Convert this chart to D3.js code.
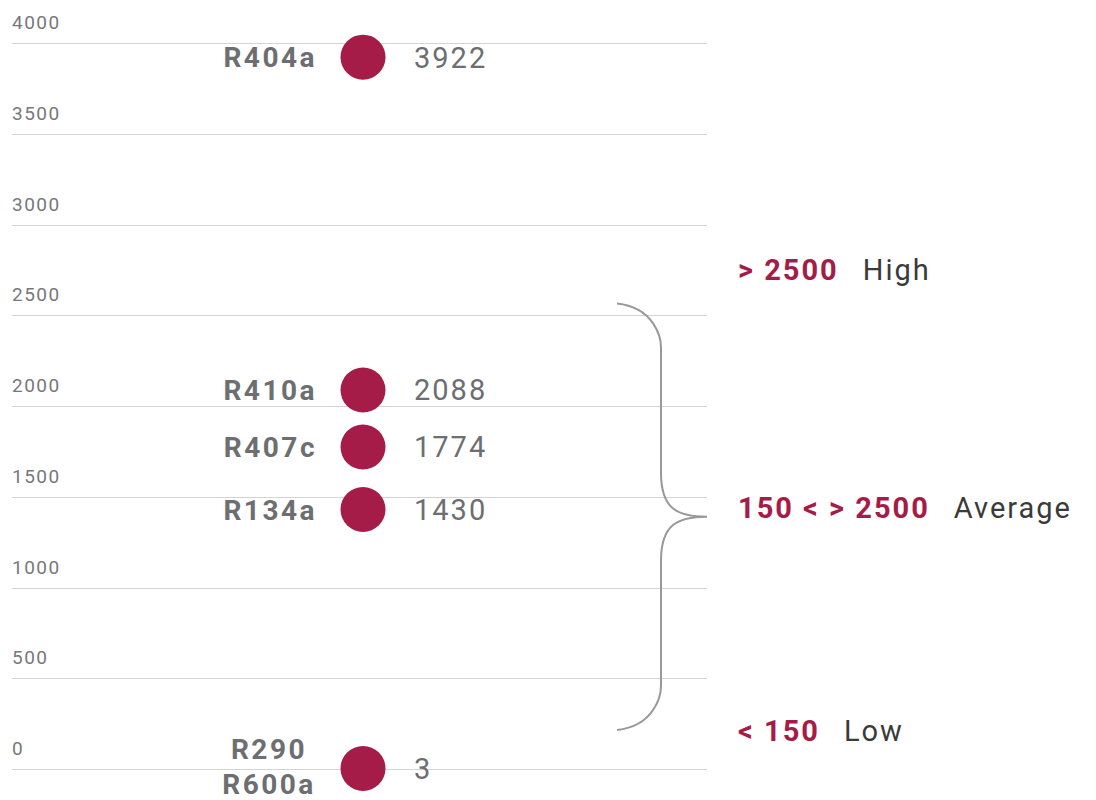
<!DOCTYPE html>
<meta charset="utf-8">
<style>
body { margin: 0; background: #fff; }
text { font-family: Roboto, "Open Sans", sans-serif; }
.tick-label { font-size: 19px; fill: #77787b; letter-spacing: 1.5px; }
.grid line { stroke: #d4d4d4; stroke-width: 1.2; }
.name { font-size: 28px; font-weight: bold; fill: #6d6e71; letter-spacing: 2.5px; }
.value { font-size: 29px; fill: #6d6e71; letter-spacing: 2px; }
.band-range { font-size: 29px; font-weight: bold; fill: #a51c48; letter-spacing: 2px; }
.band-name { font-size: 29px; fill: #3a3a3a; letter-spacing: 2px; }
</style>
<body>
<script src="https://cdnjs.cloudflare.com/ajax/libs/d3/7.8.5/d3.min.js"></script>
<script>

var refrigerants = ["R404a", "R410a", "R407c", "R134a", "R290\nR600a"];
var gwpValues    = [3922, 2088, 1774, 1430, 3];
var tickValues   = [0, 500, 1000, 1500, 2000, 2500, 3000, 3500, 4000];

var bandRanges = ["> 2500", "150 < > 2500", "< 150"];
var bandNames  = ["High", "Average", "Low"];
var bandValues = [2740, 1427, 198];   // where each band label sits on the value axis

var width = 1096,
    height = 800;

var svg = d3.select("body").append("svg")
    .attr("width", width)
    .attr("height", height);

var y = d3.scaleLinear()
    .domain([0, 4000])
    .range([769, 43]);

var gridLeft = 12, gridRight = 707;

/*
  grid lines + tick labels
*/
var grid = svg.append("g").attr("class", "grid");

grid.selectAll("line")
    .data(tickValues)
    .enter().append("line")
    .attr("x1", gridLeft)
    .attr("x2", gridRight)
    .attr("y1", function(d) { return Math.round(y(d)) + 0.5; })
    .attr("y2", function(d) { return Math.round(y(d)) + 0.5; });

grid.selectAll("text")
    .data(tickValues)
    .enter().append("text")
    .attr("class", "tick-label")
    .attr("x", gridLeft)
    .attr("y", function(d) { return y(d) - 14; })
    .text(function(d) { return d; });

/*
  dots with names and values
*/
var rows = refrigerants.map(function(name, i) {
  return { name: name, value: gwpValues[i] };
});

var dotX = 363;

var row = svg.selectAll(".row")
    .data(rows)
    .enter().append("g")
    .attr("class", "row")
    .attr("transform", function(d) { return "translate(0," + y(d.value) + ")"; });

row.append("circle")
    .attr("cx", dotX)
    .attr("r", 22.5)
    .style("fill", "#a51c48");

row.append("text")
    .attr("class", "value")
    .attr("x", 414)
    .attr("dy", "0.36em")
    .text(function(d) { return d.value; });

row.each(function(d) {
  var lines = d.name.split("\n");
  var t = d3.select(this).append("text").attr("class", "name");
  if (lines.length === 1) {
    t.attr("x", 317).attr("dy", "0.36em").attr("text-anchor", "end").text(d.name);
  } else {
    t.attr("text-anchor", "middle");
    lines.forEach(function(l, k) {
      t.append("tspan")
        .attr("x", 269)
        .attr("y", (k - (lines.length - 1) / 2) * 35 - 2)
        .attr("dy", "0.36em")
        .text(l);
    });
  }
});

/*
  brace for the average band
*/
var braceTop = y(2565), braceBot = y(215), braceTip = y(1390);
var bx0 = 617, bx1 = 661, bx2 = 707, r = 44;

var brace = d3.path();
brace.moveTo(bx0, braceTop);
brace.bezierCurveTo(bx1 - 6, braceTop + 4, bx1, braceTop + r * 0.8, bx1, braceTop + r);
brace.lineTo(bx1, braceTip - r);
brace.bezierCurveTo(bx1, braceTip - 8, bx2 - 30, braceTip, bx2, braceTip);
brace.bezierCurveTo(bx2 - 30, braceTip, bx1, braceTip + 8, bx1, braceTip + r);
brace.lineTo(bx1, braceBot - r);
brace.bezierCurveTo(bx1, braceBot - r * 0.8, bx1 - 6, braceBot - 4, bx0, braceBot);

svg.append("path")
    .attr("d", brace.toString())
    .style("fill", "none")
    .style("stroke", "#97989b")
    .style("stroke-width", 2);

/*
  band labels on the right
*/
var bands = svg.selectAll(".band")
    .data(bandRanges)
    .enter().append("text")
    .attr("class", "band")
    .attr("x", 738)
    .attr("y", function(d, i) { return y(bandValues[i]); })
    .attr("dy", "0.5em");

bands.append("tspan")
    .attr("class", "band-range")
    .text(function(d) { return d; });

bands.append("tspan")
    .attr("class", "band-name")
    .attr("dx", 24)
    .text(function(d, i) { return bandNames[i]; });

</script>
